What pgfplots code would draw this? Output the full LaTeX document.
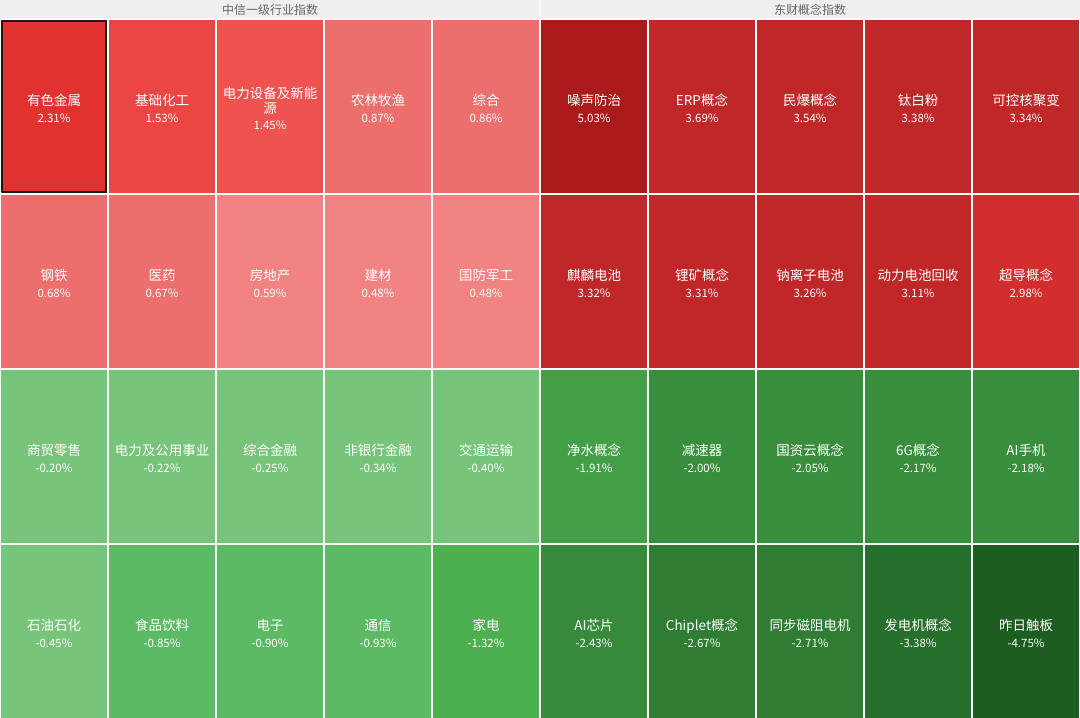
\documentclass[border=0pt]{standalone}
\usepackage{pgfplots}
\pgfplotsset{compat=1.18}
\usepackage{fontspec}
\setmainfont{Noto Sans CJK SC}
\newfontfamily\cjk{Noto Sans CJK SC}
% cell colours
\definecolor{hdr}{HTML}{EFEFEF}
\definecolor{rA}{HTML}{E03330}
\definecolor{rB}{HTML}{EA4744}
\definecolor{rC}{HTML}{EF5350}
\definecolor{rD}{HTML}{EC6F6D}
\definecolor{rE}{HTML}{F18482}
\definecolor{rF}{HTML}{AB1A1A}
\definecolor{rG}{HTML}{BF2729}
\definecolor{rH}{HTML}{D22E2E}
\definecolor{gA}{HTML}{77C47B}
\definecolor{gB}{HTML}{5DBA64}
\definecolor{gC}{HTML}{4CAF50}
\definecolor{gD}{HTML}{43A047}
\definecolor{gE}{HTML}{388E3C}
\definecolor{gF}{HTML}{378A3C}
\definecolor{gG}{HTML}{2E7D32}
\definecolor{gH}{HTML}{276F2C}
\definecolor{gI}{HTML}{1B5E20}
\definecolor{txt}{HTML}{FFFFFF}
\definecolor{htxt}{HTML}{666666}
\tikzset{lbl/.style={text=txt, align=center, font=\cjk\fontsize{13.5pt}{16pt}\selectfont, inner sep=0pt}}

% #1 column (0..9), #2 row counted from the bottom (0..3), #3 colour, #4 name, #5 change
\newcommand\cell[5]{%
  \addplot[fill=#3, draw=none, forget plot] coordinates {(#1.01,#2.006) (#1.99,#2.006) (#1.99,#2.994) (#1.01,#2.994) (#1.01,#2.006)};
  \node[lbl] at (axis cs:#1.5,#2.49) {#4\\[0.5pt]\fontsize{11.5pt}{14pt}\selectfont #5};
}

\begin{document}
\begin{tikzpicture}
\begin{axis}[
  width=1080pt, height=719pt, scale only axis,
  xmin=0, xmax=10, ymin=0, ymax=4.10857,
  hide axis, clip=false,
]
% header bands
\addplot[fill=hdr, draw=none, forget plot] coordinates {(0,4.004) (4.995,4.004) (4.995,4.10857) (0,4.10857) (0,4.004)};
\addplot[fill=hdr, draw=none, forget plot] coordinates {(5.005,4.004) (10,4.004) (10,4.10857) (5.005,4.10857) (5.005,4.004)};
\node[text=htxt, font=\cjk, inner sep=0pt] at (axis cs:2.5,4.054) {\fontsize{12pt}{14pt}\selectfont 中信一级行业指数};
\node[text=htxt, font=\cjk, inner sep=0pt] at (axis cs:7.5,4.054) {\fontsize{12pt}{14pt}\selectfont 东财概念指数};

% top row (3)
\cell{0}{3}{rA}{有色金属}{2.31\%}
\cell{1}{3}{rB}{基础化工}{1.53\%}
\cell{2}{3}{rC}{电力设备及新能\\[-1pt]源}{1.45\%}
\cell{3}{3}{rD}{农林牧渔}{0.87\%}
\cell{4}{3}{rD}{综合}{0.86\%}
\cell{5}{3}{rF}{噪声防治}{5.03\%}
\cell{6}{3}{rG}{ERP概念}{3.69\%}
\cell{7}{3}{rG}{民爆概念}{3.54\%}
\cell{8}{3}{rG}{钛白粉}{3.38\%}
\cell{9}{3}{rG}{可控核聚变}{3.34\%}
% row 2
\cell{0}{2}{rD}{钢铁}{0.68\%}
\cell{1}{2}{rD}{医药}{0.67\%}
\cell{2}{2}{rE}{房地产}{0.59\%}
\cell{3}{2}{rE}{建材}{0.48\%}
\cell{4}{2}{rE}{国防军工}{0.48\%}
\cell{5}{2}{rG}{麒麟电池}{3.32\%}
\cell{6}{2}{rG}{锂矿概念}{3.31\%}
\cell{7}{2}{rG}{钠离子电池}{3.26\%}
\cell{8}{2}{rG}{动力电池回收}{3.11\%}
\cell{9}{2}{rH}{超导概念}{2.98\%}
% row 1
\cell{0}{1}{gA}{商贸零售}{-0.20\%}
\cell{1}{1}{gA}{电力及公用事业}{-0.22\%}
\cell{2}{1}{gA}{综合金融}{-0.25\%}
\cell{3}{1}{gA}{非银行金融}{-0.34\%}
\cell{4}{1}{gA}{交通运输}{-0.40\%}
\cell{5}{1}{gD}{净水概念}{-1.91\%}
\cell{6}{1}{gE}{减速器}{-2.00\%}
\cell{7}{1}{gE}{国资云概念}{-2.05\%}
\cell{8}{1}{gE}{6G概念}{-2.17\%}
\cell{9}{1}{gE}{AI手机}{-2.18\%}
% bottom row (0)
\cell{0}{0}{gA}{石油石化}{-0.45\%}
\cell{1}{0}{gB}{食品饮料}{-0.85\%}
\cell{2}{0}{gB}{电子}{-0.90\%}
\cell{3}{0}{gB}{通信}{-0.93\%}
\cell{4}{0}{gC}{家电}{-1.32\%}
\cell{5}{0}{gF}{AI芯片}{-2.43\%}
\cell{6}{0}{gG}{Chiplet概念}{-2.67\%}
\cell{7}{0}{gG}{同步磁阻电机}{-2.71\%}
\cell{8}{0}{gH}{发电机概念}{-3.38\%}
\cell{9}{0}{gI}{昨日触板}{-4.75\%}

% highlighted first cell border
\addplot[draw=black!90, line width=2pt, fill=none, forget plot] coordinates {(0.018,3.012) (0.982,3.012) (0.982,3.988) (0.018,3.988) (0.018,3.012)};
\end{axis}
\end{tikzpicture}
\end{document}
